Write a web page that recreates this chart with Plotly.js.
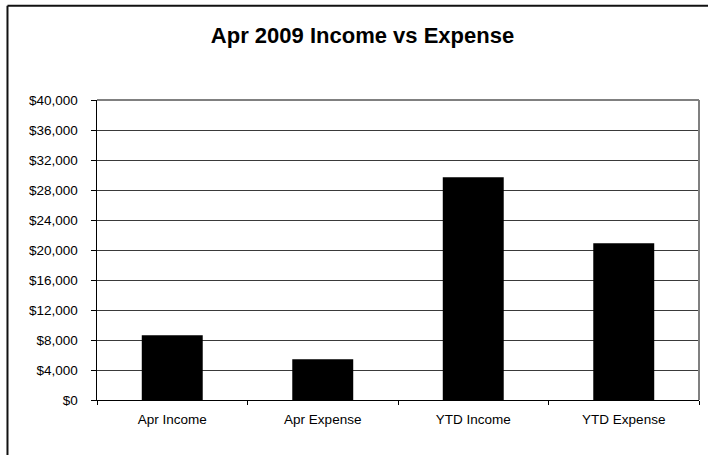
<!DOCTYPE html>
<html>
<head>
<meta charset="utf-8">
<script src="https://cdn.plot.ly/plotly-3.0.1.min.js"></script>
<style>
  html, body { margin: 0; padding: 0; background: #fff; }
  #chart { width: 708px; height: 455px; }
</style>
</head>
<body>
<div id="chart"></div>
<script>
const categories = ["Apr Income", "Apr Expense", "YTD Income", "YTD Expense"];
const amounts = [8640, 5440, 29700, 20900];
const chartTitle = "Apr 2009 Income vs Expense";
const yTickValues = [0, 4000, 8000, 12000, 16000, 20000, 24000, 28000, 32000, 36000, 40000];

const FONT = "Arial, 'Liberation Sans', sans-serif";

const trace = {
  type: "bar",
  x: categories,
  y: amounts,
  marker: { color: "#000000", line: { width: 0 } },
  hoverinfo: "x+y"
};

const layout = {
  width: 708,
  height: 455,
  margin: { l: 97, r: 9, t: 100, b: 55, pad: 0 },
  paper_bgcolor: "#ffffff",
  plot_bgcolor: "#ffffff",
  showlegend: false,
  bargap: 0.595,
  font: { family: FONT, color: "#000000", size: 13 },
  title: {
    text: "<b>" + chartTitle + "</b>",
    font: { family: FONT, size: 22, color: "#000000" },
    xref: "container", x: 0.512, xanchor: "center",
    yref: "container", y: 0.922, yanchor: "middle"
  },
  xaxis: {
    type: "category",
    showline: true, linecolor: "#000000", linewidth: 1,
    ticks: "outside", tickson: "boundaries", ticklen: 4, tickcolor: "#000000", tickwidth: 1,
    ticklabelstandoff: 7,
    showgrid: false,
    tickfont: { family: FONT, size: 13.5, color: "#000000" },
    fixedrange: true
  },
  yaxis: {
    range: [0, 40000],
    tickvals: yTickValues,
    tickformat: "$,.0f",
    showline: true, linecolor: "#000000", linewidth: 1.5,
    ticks: "outside", ticklen: 5, tickcolor: "#000000", tickwidth: 1,
    ticklabelstandoff: 10,
    showgrid: true, gridcolor: "#3a3a3a", gridwidth: 1,
    zeroline: false,
    tickfont: { family: FONT, size: 13.5, color: "#000000" },
    fixedrange: true
  },
  shapes: [
    { type: "line", xref: "paper", yref: "paper", x0: 0, x1: 1, y0: 1, y1: 1,
      line: { color: "#808080", width: 2 } },
    { type: "line", xref: "paper", yref: "paper", x0: 1, x1: 1, y0: 0, y1: 1,
      line: { color: "#808080", width: 2 } },
    { type: "line", xref: "paper", yref: "paper", x0: -0.1487, x1: 1.2, y0: 1.3139, y1: 1.3139,
      line: { color: "#111111", width: 2 } },
    { type: "line", xref: "paper", yref: "paper", x0: -0.1487, x1: -0.1487, y0: -0.5, y1: 1.3139,
      line: { color: "#111111", width: 2 } }
  ]
};

Plotly.newPlot("chart", [trace], layout, { displayModeBar: false, staticPlot: true });
</script>
</body>
</html>
